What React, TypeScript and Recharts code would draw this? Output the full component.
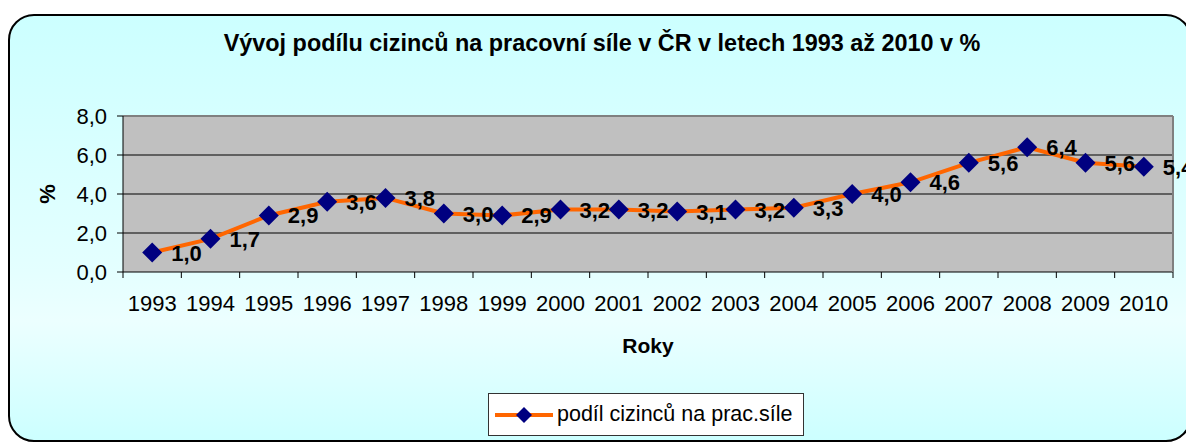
import React from 'react';
import { LineChart, Line, XAxis, YAxis, CartesianGrid, LabelList, Legend, ReferenceLine } from 'recharts';

const years = ['1993','1994','1995','1996','1997','1998','1999','2000','2001','2002','2003','2004','2005','2006','2007','2008','2009','2010'];
const shares = [1.0,1.7,2.9,3.6,3.8,3.0,2.9,3.2,3.2,3.1,3.2,3.3,4.0,4.6,5.6,6.4,5.6,5.4];
const yTicks = [0,2,4,6,8];
const seriesName = 'podíl cizinců na prac.síle';
const title = 'Vývoj podílu cizinců na pracovní síle v ČR v letech 1993 až 2010 v %';
const xTitle = 'Roky';
const yTitle = '%';

const data = years.map((y, i) => ({ year: y, share: shares[i] }));

const FONT = 'Arial, "Liberation Sans", sans-serif';
const W = 1186;
const H = 443;
const M = { top: 116, right: 0, left: 0, bottom: 0 };
const Y_W = 123;
const R_W = 13;
const X_H = H - 272;
const BAND = (W - Y_W - R_W) / years.length;
const ORANGE = '#FF6600';
const NAVY = '#000080';

const fmt = (v: number) => v.toFixed(1).replace('.', ',');

const XTick = (props: any) => {
  const { x, y, payload, index } = props;
  const half = BAND / 2;
  const last = index === years.length - 1;
  return (
    <g>
      <line x1={x - half} x2={x - half} y1={y} y2={y + 6} stroke="#000" />
      {last && <line x1={x + half} x2={x + half} y1={y} y2={y + 6} stroke="#000" />}
      <text x={x} y={y + 39} textAnchor="middle" fontSize={22} fontFamily={FONT} fill="#000">
        {payload.value}
      </text>
    </g>
  );
};

const Diamond = (props: any) => {
  const { cx, cy } = props;
  if (cx == null || cy == null) return null;
  const r = 10;
  return <polygon points={`${cx},${cy - r} ${cx + r},${cy} ${cx},${cy + r} ${cx - r},${cy}`} fill={NAVY} />;
};

const DataLabel = (props: any) => {
  const { x, y, value } = props;
  return (
    <text x={x + 19} y={y + 8} fontSize={22} fontWeight="bold" fontFamily={FONT} fill="#000" textAnchor="start">
      {fmt(Number(value))}
    </text>
  );
};

const LegendBox = () => (
  <div style={{
    position: 'absolute', left: 488, top: 393, width: 316, height: 43, boxSizing: 'border-box',
    background: '#fff', border: '1px solid #333', display: 'flex', alignItems: 'center',
    fontFamily: FONT, fontSize: 21.5, color: '#000', whiteSpace: 'nowrap'
  }}>
    <svg width={60} height={20} style={{ marginLeft: 6, marginRight: 2 }}>
      <line x1={0} x2={58} y1={10} y2={10} stroke={ORANGE} strokeWidth={4} />
      <polygon points="29,2 37,10 29,18 21,10" fill={NAVY} />
    </svg>
    <span>{seriesName}</span>
  </div>
);

export default function App() {
  return (
    <div style={{ position: 'fixed', left: 0, top: 0, width: W, height: H, overflow: 'hidden', background: '#fff' }}>
      <div style={{
        position: 'absolute', left: 8, top: 14, width: 1184, height: 428, boxSizing: 'border-box',
        border: '2px solid #000', borderRadius: 26,
        background: 'linear-gradient(to bottom, #CCFFFF 0%, #E4FFFF 60%, #ECFFFF 72%, #CCFFFF 100%)'
      }} />
      <div style={{
        position: 'absolute', left: 0, top: 30, width: 1204, textAlign: 'center', whiteSpace: 'nowrap',
        fontFamily: FONT, fontWeight: 'bold', fontSize: 23.4, lineHeight: '27px', color: '#000'
      }}>{title}</div>
      <div style={{
        position: 'absolute', left: Y_W, top: 334, width: W - Y_W - R_W, textAlign: 'center',
        fontFamily: FONT, fontWeight: 'bold', fontSize: 21, lineHeight: '24px', color: '#000'
      }}>{xTitle}</div>
      <div style={{ position: 'absolute', left: 0, top: 0 }}>
        <LineChart width={W} height={H} data={data} margin={M} style={{ fontFamily: FONT }}>
          <CartesianGrid vertical={false} stroke="#000" fill="#C0C0C0" fillOpacity={1} horizontalValues={[2, 4, 6]} />
          <ReferenceLine yAxisId={0} y={8} stroke="#808080" strokeWidth={2} />
          <XAxis dataKey="year" scale="band" height={X_H} tickSize={0} tickMargin={0}
            tick={<XTick />} axisLine={{ stroke: '#000' }} tickLine={false} interval={0} />
          <YAxis yAxisId={0} width={Y_W} domain={[0, 8]} ticks={yTicks} tickSize={6} tickMargin={10}
            tickFormatter={(v: number) => fmt(v)} axisLine={{ stroke: '#000' }} tickLine={{ stroke: '#000' }}
            tick={{ fill: '#000', fontSize: 22, fontFamily: FONT }}
            label={{ content: (p: any) => (
              <text x={55} y={194} textAnchor="middle" fontSize={22} fontWeight="bold" fontFamily={FONT}
                transform="rotate(-90 55 194)" fill="#000">{yTitle}</text>
            ) }} />
          <YAxis yAxisId="r" orientation="right" width={R_W} domain={[0, 8]} tick={false} tickLine={false}
            axisLine={{ stroke: '#808080', strokeWidth: 2 }} />
          <Line yAxisId={0} type="linear" dataKey="share" name={seriesName} stroke={ORANGE} strokeWidth={4}
            dot={<Diamond />} activeDot={false} isAnimationActive={false}>
            <LabelList dataKey="share" content={<DataLabel />} />
          </Line>
          <Legend content={() => <LegendBox />} wrapperStyle={{ position: 'absolute', left: 0, top: 0, width: 0, height: 0 }} />
        </LineChart>
      </div>
    </div>
  );
}
